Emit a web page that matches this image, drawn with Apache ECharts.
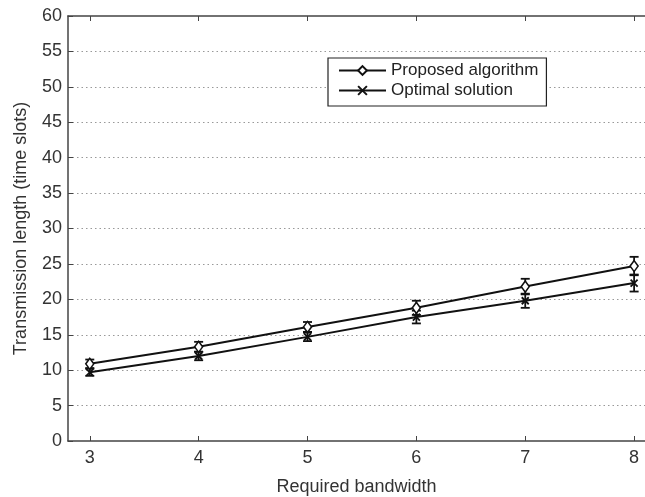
<!DOCTYPE html>
<html>
<head>
<meta charset="utf-8">
<script src="https://cdn.jsdelivr.net/npm/echarts@6/dist/echarts.min.js"></script>
<style>
  html, body { margin: 0; padding: 0; background: #fff; }
  #chart { width: 645px; height: 497px; }
</style>
</head>
<body>
<div id="chart"></div>
<script>
// Required bandwidth values on the x axis
const bandwidth = [3, 4, 5, 6, 7, 8];
// Mean transmission length (time slots) and error half-widths
const proposed = [10.9, 13.3, 16.1, 18.8, 21.8, 24.7];
const proposedErr = [0.6, 0.7, 0.7, 1.0, 1.1, 1.3];
const optimal = [9.7, 12.0, 14.7, 17.5, 19.8, 22.3];
const optimalErr = [0.5, 0.6, 0.6, 0.9, 1.0, 1.2];
const xTicks = [3, 4, 5, 6, 7, 8];
const yTicks = [0, 5, 10, 15, 20, 25, 30, 35, 40, 45, 50, 55, 60];

const FONT = 'Liberation Sans';
const INK = '#111';
const AXIS = '#444';
const LABEL = '#333';

const pairs = (ys) => bandwidth.map((x, i) => [x, ys[i]]);
const errRows = (ys, es) => bandwidth.map((x, i) => [x, ys[i] - es[i], ys[i] + es[i]]);

function errorBar(params, api) {
  const x = api.value(0);
  const lo = api.coord([x, api.value(1)]);
  const hi = api.coord([x, api.value(2)]);
  const w = 4.5;
  const style = { stroke: INK, lineWidth: 1.8, fill: null };
  return {
    type: 'group',
    children: [
      { type: 'line', shape: { x1: lo[0], y1: lo[1], x2: hi[0], y2: hi[1] }, style },
      { type: 'line', shape: { x1: lo[0] - w, y1: lo[1], x2: lo[0] + w, y2: lo[1] }, style },
      { type: 'line', shape: { x1: hi[0] - w, y1: hi[1], x2: hi[0] + w, y2: hi[1] }, style }
    ]
  };
}

const crossPath = 'path://M0,0L10,10M10,0L0,10';

const chart = echarts.init(document.getElementById('chart'), null, { renderer: 'canvas' });

const xBase = {
  type: 'value', min: 2.8, max: 8.1,
  axisLine: { show: true, lineStyle: { color: AXIS, width: 1.5 } },
  axisTick: { show: true, inside: true, length: 5, customValues: xTicks, lineStyle: { color: AXIS } },
  splitLine: { show: false }
};

chart.setOption({
  animation: false,
  backgroundColor: '#fff',
  textStyle: { fontFamily: FONT },
  grid: { left: 68, top: 16, right: 0, bottom: 56, containLabel: false, outerBoundsMode: 'none' },
  legend: {
    orient: 'vertical',
    left: 328, top: 58,
    padding: [4, 8, 7, 10],
    itemGap: 3,
    itemWidth: 47, itemHeight: 11,
    borderColor: '#222', borderWidth: 1.2,
    backgroundColor: '#fff',
    textStyle: { fontFamily: FONT, fontSize: 17, color: '#222' },
    data: ['Proposed algorithm', 'Optimal solution']
  },
  xAxis: [
    Object.assign({}, xBase, {
      position: 'bottom',
      name: 'Required bandwidth',
      nameLocation: 'middle', nameGap: 37,
      nameTextStyle: { fontFamily: FONT, fontSize: 18, color: LABEL },
      axisLabel: { show: true, customValues: xTicks, margin: 8, fontFamily: FONT, fontSize: 18, color: LABEL }
    }),
    Object.assign({}, xBase, { position: 'top', axisLabel: { show: false } })
  ],
  yAxis: {
    type: 'value', min: 0, max: 60, interval: 5,
    position: 'left',
    axisLine: { show: true, lineStyle: { color: AXIS, width: 1.5 } },
    axisTick: { show: true, inside: true, length: 5, customValues: yTicks, lineStyle: { color: AXIS } },
    name: 'Transmission length (time slots)',
    nameLocation: 'middle', nameGap: 38,
    nameTextStyle: { fontFamily: FONT, fontSize: 18, color: LABEL },
    axisLabel: { show: true, margin: 6, fontFamily: FONT, fontSize: 18, color: LABEL },
    splitLine: { show: true, showMinLine: false, showMaxLine: false, lineStyle: { color: '#999', type: [1.5, 3], width: 1 } }
  },
  series: [
    {
      name: 'Proposed algorithm', type: 'line', data: pairs(proposed),
      xAxisIndex: 0, yAxisIndex: 0,
      symbol: 'diamond', symbolSize: [8, 11], showSymbol: true,
      lineStyle: { color: INK, width: 2 },
      itemStyle: { color: '#fff', borderColor: INK, borderWidth: 1.6 },
      z: 3
    },
    {
      name: 'Optimal solution', type: 'line', data: pairs(optimal),
      xAxisIndex: 0, yAxisIndex: 0,
      symbol: crossPath, symbolSize: 7, showSymbol: true,
      lineStyle: { color: INK, width: 2 },
      itemStyle: { color: INK, borderColor: INK, borderWidth: 1.8 },
      z: 3
    },
    {
      name: 'proposed-err', type: 'custom', renderItem: errorBar,
      data: errRows(proposed, proposedErr), encode: { x: 0, y: [1, 2] }, z: 2
    },
    {
      name: 'optimal-err', type: 'custom', renderItem: errorBar,
      data: errRows(optimal, optimalErr), encode: { x: 0, y: [1, 2] }, z: 2
    }
  ]
});
</script>
</body>
</html>
